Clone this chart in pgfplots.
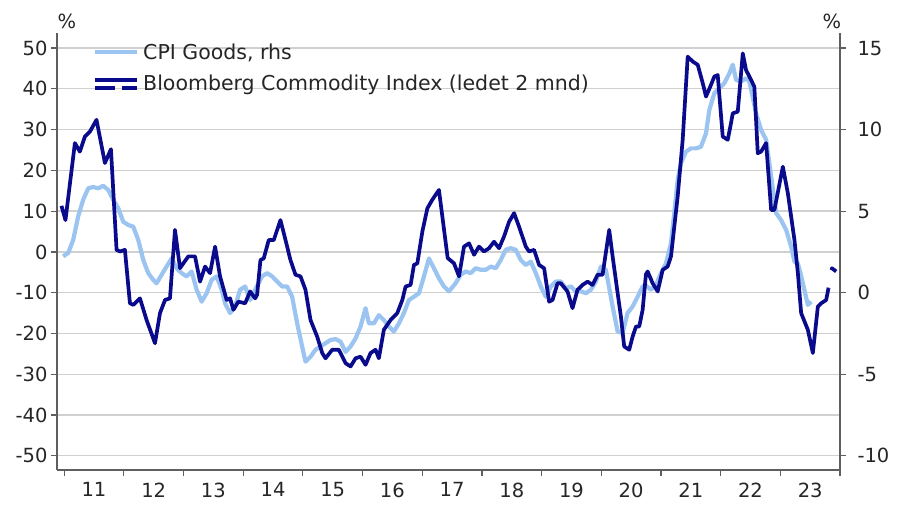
\documentclass[border=0pt]{standalone}
\usepackage{fontspec}
\setmainfont{DejaVu Sans}
\usepackage{pgfplots}
\pgfplotsset{compat=1.18}
\definecolor{navy}{RGB}{10,10,140}
\definecolor{lightb}{RGB}{155,196,240}
\definecolor{gridc}{RGB}{208,208,208}
\definecolor{axc}{RGB}{95,95,95}
\begin{document}
\begin{tikzpicture}
\pgfplotsset{
 base/.style={width=783pt,height=437pt,scale only axis,
  xmin=2010.88,xmax=2024.0,
  font=\fontsize{19.5}{23}\selectfont,
  /pgf/number format/assume math mode=true,
  tick align=outside, major tick length=6pt,
  axis line style={-,axc,line width=1.2pt},
  tick style={axc,line width=1.2pt}},
}
% left axis with grid and x axis
\begin{axis}[base, ymin=-53.5, ymax=53.7,
  axis y line*=left, axis x line*=bottom,
  ytick={-50,-40,...,50}, ymajorgrids,
  grid style={gridc,line width=1.3pt},
  yticklabel style={text=black!85},
  xtick={2011,2012,2013,2014,2015,2016,2017,2018,2019,2020,2021,2022,2023,2024},
  xticklabels={},
  extra x ticks={2011.5,2012.5,2013.5,2014.5,2015.5,2016.5,2017.5,2018.5,2019.5,2020.5,2021.5,2022.5,2023.5},
  extra x tick labels={11,12,13,14,15,16,17,18,19,20,21,22,23},
  extra x tick style={major tick length=0pt, grid=none, xticklabel style={yshift=-9pt, text=black!85}},
]
\end{axis}
% right axis: CPI goods
\begin{axis}[base, ymin=-10.875, ymax=15.925,
  axis y line*=right, axis x line=none,
  ytick={-10,-5,0,5,10,15},
  yticklabel style={xshift=8pt, text=black!85},
]
\addplot[lightb, line width=4.2pt, line join=round] coordinates {
(2010.983,2.23)(2011.067,2.43)(2011.151,3.23)(2011.235,4.68)(2011.319,5.70)(2011.403,6.40)
(2011.487,6.48)(2011.570,6.40)(2011.654,6.55)(2011.738,6.30)(2011.822,5.70)(2011.906,5.18)
(2011.990,4.35)(2012.074,4.15)(2012.158,4.05)(2012.242,3.23)(2012.326,2.00)(2012.409,1.20)
(2012.493,0.78)(2012.549,0.58)(2012.633,1.10)(2012.716,1.60)(2012.800,2.10)(2012.884,1.50)
(2012.968,1.20)(2013.052,1.00)(2013.136,1.30)(2013.220,0.18)(2013.304,-0.55)(2013.388,-0.03)
(2013.471,0.78)(2013.555,1.00)(2013.639,0.18)(2013.696,-0.65)(2013.780,-1.25)(2013.864,-0.85)
(2013.948,0.18)(2014.032,0.38)(2014.116,-0.45)(2014.200,0.18)(2014.317,1.00)(2014.401,1.20)
(2014.485,1.00)(2014.569,0.68)(2014.653,0.38)(2014.737,0.38)(2014.820,-0.25)(2014.904,-1.88)
(2014.988,-3.30)(2015.044,-4.23)(2015.128,-3.93)(2015.211,-3.50)(2015.295,-3.30)(2015.379,-3.10)
(2015.463,-2.90)(2015.547,-2.85)(2015.631,-3.00)(2015.715,-3.63)(2015.799,-3.30)(2015.883,-2.80)
(2015.966,-2.08)(2016.050,-0.95)(2016.106,-1.88)(2016.190,-1.88)(2016.273,-1.38)(2016.357,-1.68)
(2016.441,-2.08)(2016.525,-2.38)(2016.609,-1.88)(2016.693,-1.25)(2016.777,-0.45)(2016.861,-0.25)
(2016.945,-0.03)(2017.029,1.00)(2017.112,2.10)(2017.196,1.50)(2017.280,0.88)(2017.364,0.38)
(2017.448,0.08)(2017.560,0.58)(2017.644,1.10)(2017.728,1.30)(2017.812,1.20)(2017.896,1.50)
(2017.980,1.40)(2018.064,1.40)(2018.148,1.60)(2018.232,1.50)(2018.315,2.00)(2018.399,2.63)
(2018.483,2.73)(2018.567,2.63)(2018.651,2.00)(2018.735,1.70)(2018.819,1.90)(2018.903,1.20)
(2018.987,0.38)(2019.070,-0.25)(2019.154,0.38)(2019.238,0.68)(2019.322,0.68)(2019.406,0.28)
(2019.490,0.38)(2019.574,0.08)(2019.658,0.08)(2019.742,-0.03)(2019.826,0.18)(2019.909,0.68)
(2019.993,1.60)(2020.077,1.40)(2020.190,-0.85)(2020.274,-2.38)(2020.357,-2.48)(2020.441,-1.25)
(2020.525,-0.85)(2020.609,-0.25)(2020.693,0.38)(2020.748,0.43)(2020.832,0.18)(2020.916,0.48)
(2021.000,1.20)(2021.084,1.80)(2021.168,3.03)(2021.223,4.88)(2021.280,6.93)(2021.336,7.95)
(2021.419,8.65)(2021.503,8.85)(2021.587,8.85)(2021.671,8.95)(2021.755,9.78)(2021.810,11.20)
(2021.894,12.23)(2021.978,12.53)(2022.062,12.85)(2022.146,13.45)(2022.203,13.98)(2022.258,13.05)
(2022.342,12.95)(2022.426,13.15)(2022.482,12.95)(2022.594,11.00)(2022.678,9.98)(2022.762,9.38)
(2022.846,7.13)(2022.930,4.88)(2023.013,4.45)(2023.097,3.85)(2023.181,2.83)(2023.237,1.90)
(2023.294,1.80)(2023.349,1.03)(2023.461,-0.75)(2023.517,-0.55)
};
\end{axis}
% Bloomberg commodity index on left scale
\begin{axis}[base, ymin=-53.5, ymax=53.7, hide axis]
\addplot[navy, line width=3.7pt, line join=round] coordinates {
(2010.955,11.3)(2011.022,7.8)(2011.180,26.7)(2011.263,24.6)(2011.347,28.3)(2011.431,29.5)
(2011.542,32.4)(2011.683,21.8)(2011.784,25.2)(2011.878,0.5)(2011.935,0.1)(2012.018,0.5)
(2012.102,-12.6)(2012.158,-13)(2012.270,-11.4)(2012.381,-16.7)(2012.522,-22.4)(2012.606,-15)
(2012.690,-11.8)(2012.773,-11.4)(2012.857,5.4)(2012.941,-4)(2012.997,-2.8)(2013.081,-1.1)
(2013.193,-1.1)(2013.277,-7.3)(2013.361,-3.6)(2013.445,-5.2)(2013.529,1.3)(2013.612,-6)
(2013.723,-11.8)(2013.780,-11.4)(2013.836,-14.2)(2013.919,-12.2)(2014.032,-12.6)(2014.116,-9.7)
(2014.200,-11.4)(2014.233,-10.5)(2014.289,-2)(2014.344,-1.6)(2014.428,2.9)(2014.512,2.9)
(2014.624,7.8)(2014.680,4.6)(2014.792,-2)(2014.876,-5.6)(2014.960,-6)(2015.044,-9.3)
(2015.128,-16.7)(2015.240,-20.8)(2015.324,-24.8)(2015.379,-26.1)(2015.492,-24)(2015.602,-24)
(2015.715,-27.3)(2015.799,-28.1)(2015.883,-26.1)(2015.966,-25.7)(2016.050,-27.7)(2016.134,-24.8)
(2016.218,-24)(2016.273,-26.1)(2016.357,-19.1)(2016.470,-16.7)(2016.582,-15)(2016.666,-11.8)
(2016.721,-8.5)(2016.805,-8.1)(2016.861,-3.2)(2016.918,-2.8)(2017.002,5)(2017.086,10.7)
(2017.169,12.8)(2017.280,15.2)(2017.426,-1.5)(2017.532,-2.8)(2017.616,-6)(2017.700,1.3)
(2017.784,2.1)(2017.868,-0.7)(2017.951,1.3)(2018.035,0.1)(2018.119,0.9)(2018.203,2.5)
(2018.287,0.9)(2018.371,3.8)(2018.455,7.4)(2018.539,9.5)(2018.622,6.2)(2018.735,1.3)
(2018.790,0.1)(2018.874,0.5)(2018.958,-3.2)(2019.042,-4)(2019.126,-12.2)(2019.183,-11.8)
(2019.267,-7.7)(2019.322,-7.7)(2019.434,-9.7)(2019.518,-13.8)(2019.602,-9.3)(2019.686,-8.1)
(2019.770,-7.3)(2019.854,-8.1)(2019.938,-5.6)(2020.022,-5.6)(2020.133,5.4)(2020.190,-1.1)
(2020.274,-10.1)(2020.329,-15.9)(2020.384,-23.2)(2020.468,-24)(2020.525,-20.8)(2020.581,-18.3)
(2020.636,-18.3)(2020.693,-14.2)(2020.748,-5.5)(2020.777,-4.8)(2020.861,-7.7)(2020.945,-9.7)
(2021.029,-4.4)(2021.112,-3.6)(2021.168,-1.1)(2021.280,13.6)(2021.364,27.5)(2021.448,47.9)
(2021.532,46.7)(2021.616,45.9)(2021.700,41.4)(2021.755,38.1)(2021.839,41)(2021.894,43)
(2021.951,43.4)(2022.035,28.3)(2022.119,27.5)(2022.174,31.6)(2022.203,34)(2022.287,34.4)
(2022.371,48.7)(2022.426,44.6)(2022.510,42.2)(2022.565,40.5)(2022.622,24.2)(2022.678,24.6)
(2022.762,26.7)(2022.846,10.3)(2022.901,10.3)(2023.042,20.9)(2023.126,14.4)(2023.237,2.9)
(2023.294,-5.2)(2023.349,-15)(2023.461,-19.1)(2023.545,-24.8)(2023.629,-13.4)(2023.685,-12.6)
(2023.768,-11.8)(2023.807,-8.9)
};
\addplot[navy, line width=3.7pt, line join=round, dash pattern=on 0.5pt off 18pt on 30pt] coordinates {
(2023.807,-8.9)(2023.865,-4.0)(2023.936,-4.8)
};
\end{axis}
% legend and unit labels
\begin{scope}[font=\fontsize{20.5}{24}\selectfont]
\draw[lightb, line width=4.2pt] ([shift={(38pt,-19pt)}]current axis.north west) -- ++(42pt,0);
\node[anchor=west, inner sep=0pt, text=black!85] at ([shift={(86pt,-20pt)}]current axis.north west) {CPI Goods, rhs};
\draw[navy, line width=3.7pt] ([shift={(38pt,-47pt)}]current axis.north west) -- ++(42pt,0);
\draw[navy, line width=3.7pt, dash pattern=on 20pt off 7pt] ([shift={(38pt,-55pt)}]current axis.north west) -- ++(42pt,0);
\node[anchor=west, inner sep=0pt, text=black!85] at ([shift={(86pt,-52pt)}]current axis.north west) {Bloomberg Commodity Index (ledet 2 mnd)};
\node[text=black!85, inner sep=0pt, font=\fontsize{19.5}{23}\selectfont] at ([shift={(10pt,12pt)}]current axis.north west) {\%};
\node[text=black!85, inner sep=0pt, font=\fontsize{19.5}{23}\selectfont] at ([shift={(-8pt,12pt)}]current axis.north east) {\%};
\end{scope}
\pgfresetboundingbox
\path[use as bounding box] ([shift={(-57pt,-40pt)}]current axis.south west) rectangle ([shift={(60pt,33pt)}]current axis.north east);
\end{tikzpicture}
\end{document}
